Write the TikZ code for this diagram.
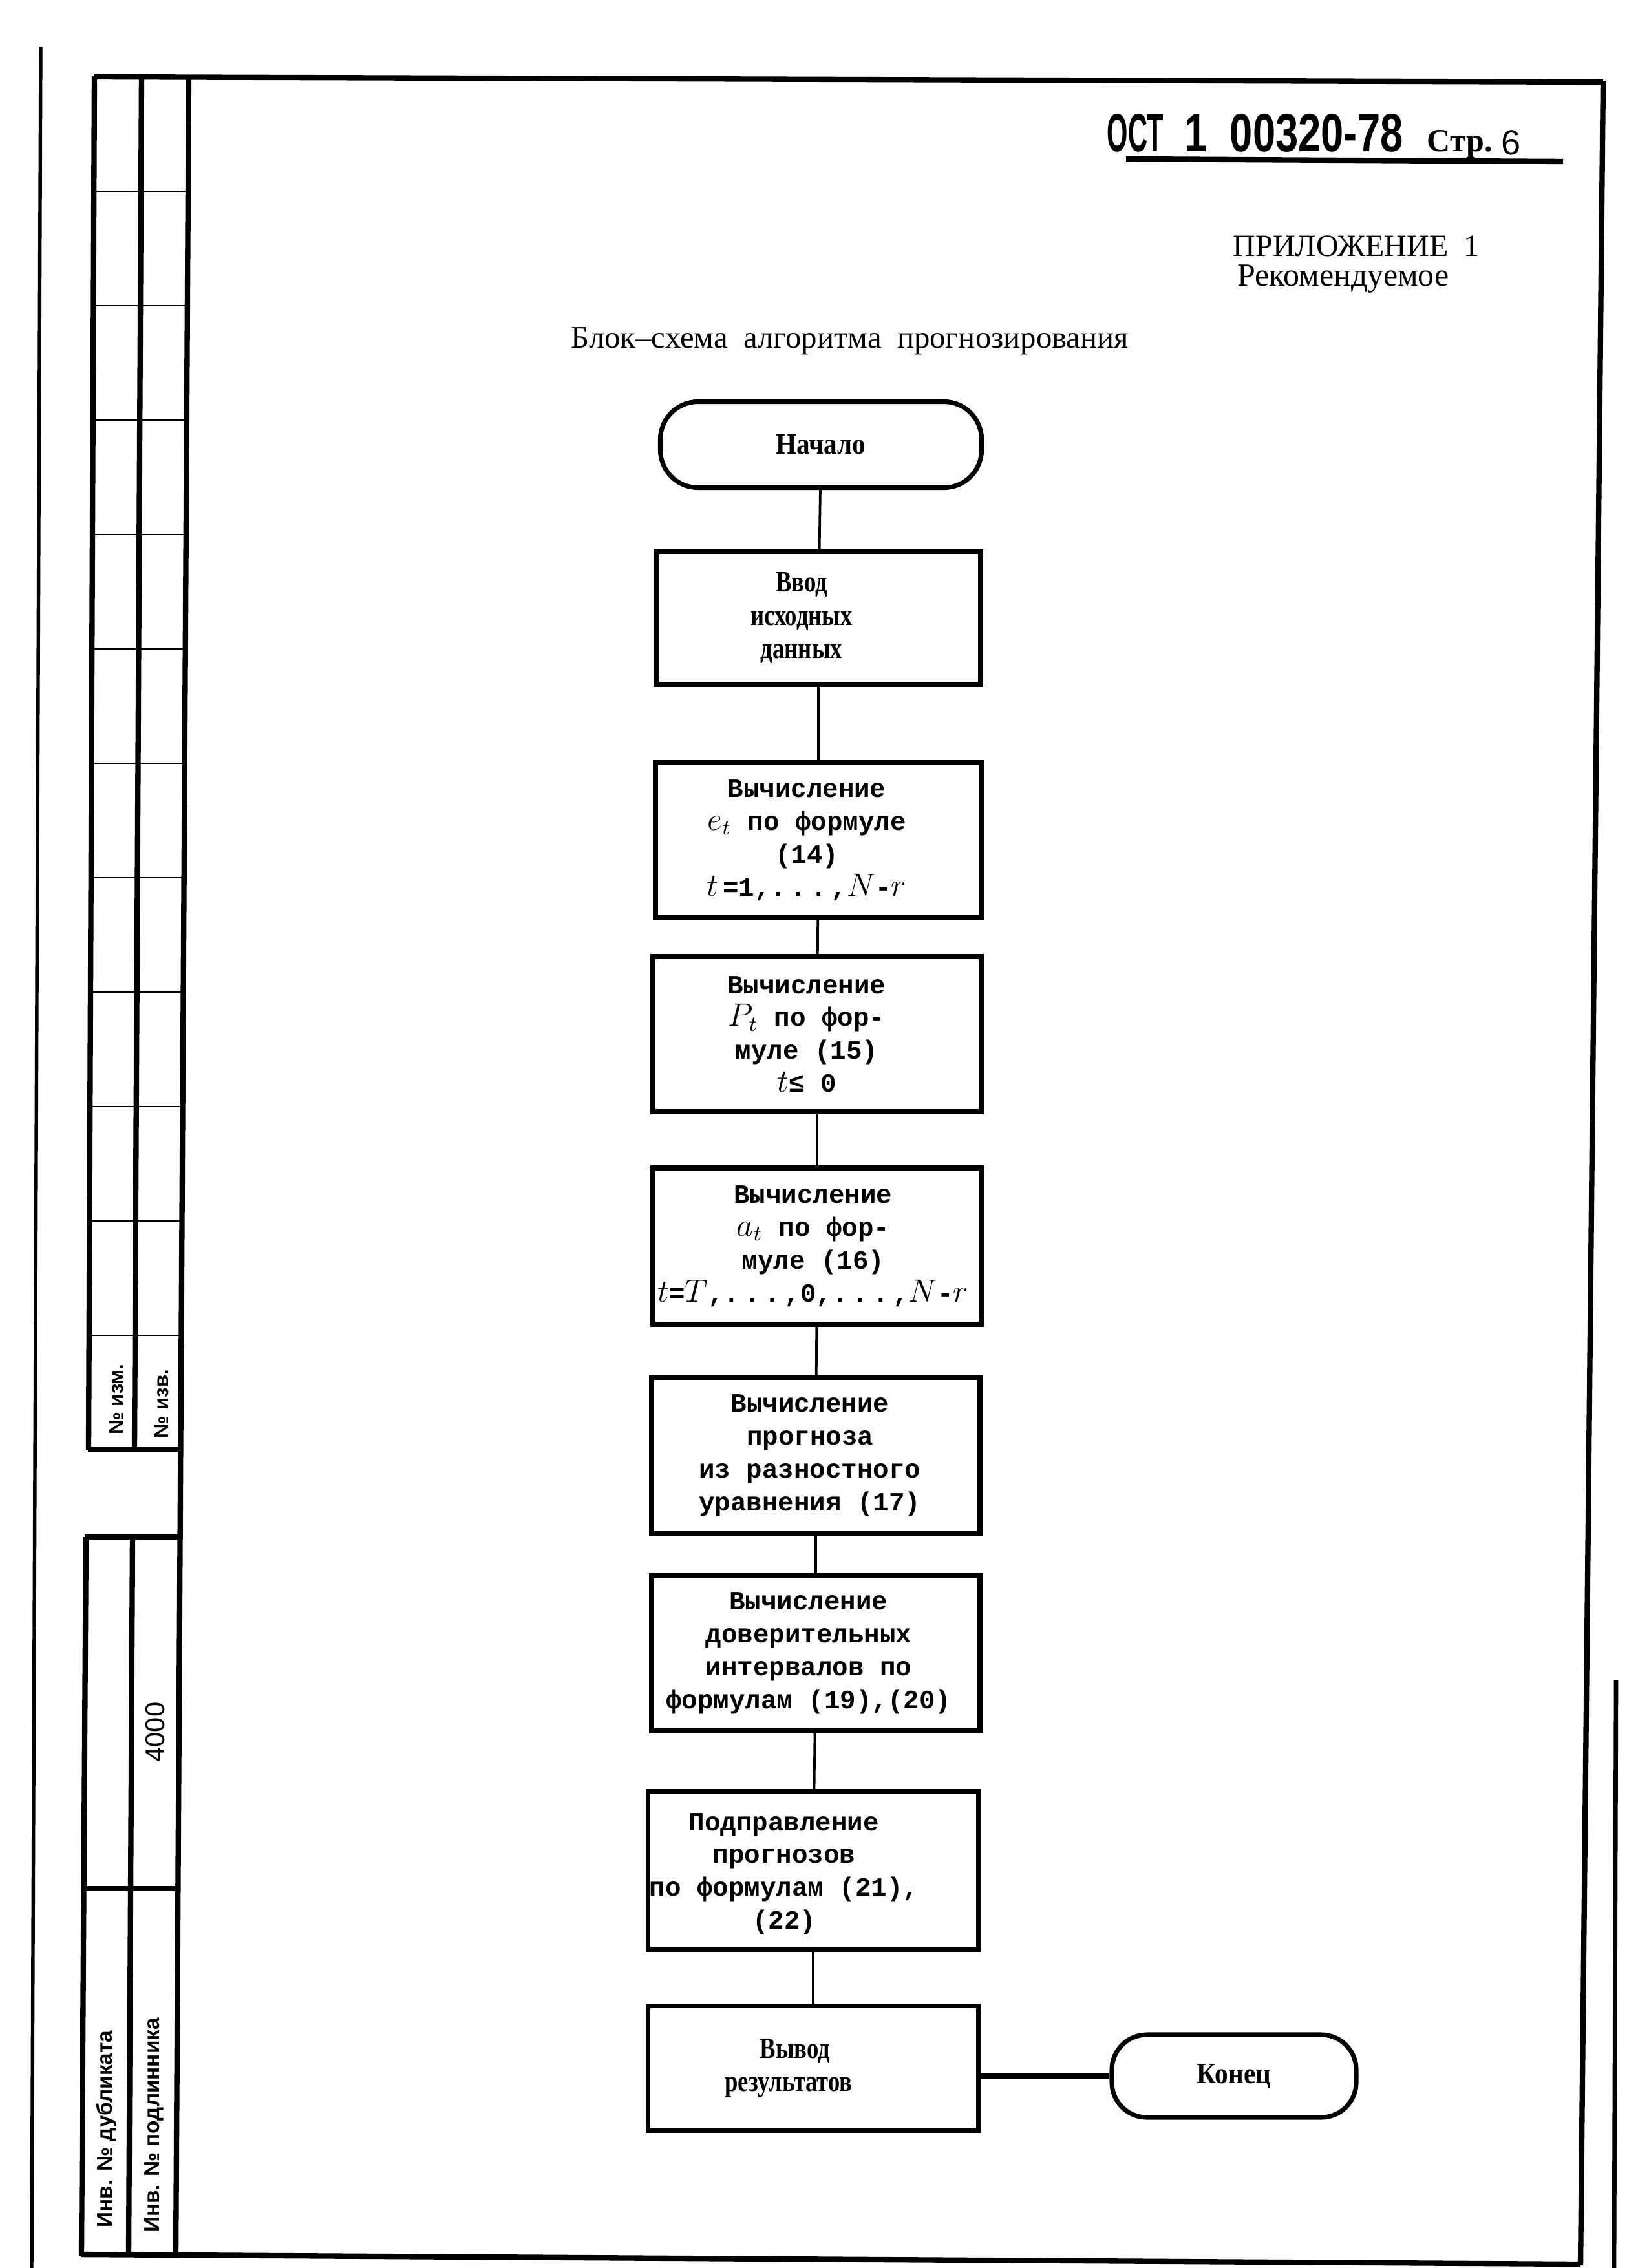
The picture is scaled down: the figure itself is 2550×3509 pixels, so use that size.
\documentclass[tikz,border=0pt]{standalone}
\usepackage{fontspec}
\usepackage{graphicx}
\setmainfont{Liberation Serif}
\newfontfamily\tw{Liberation Mono}
\newfontfamily\hsans{Liberation Sans}
\newcommand\hm[1]{{\fontsize{11.8}{12}\selectfont$#1$}}
\newcommand\cnd[1]{\scalebox{0.8}[1]{#1}}
\newcommand\cnt[1]{\scalebox{0.9}[1]{#1}}
\tikzset{
  frm/.style={line width=2pt},
  stampthin/.style={line width=0.7pt},
  procbox/.style={draw, line width=1.8pt, inner sep=0pt},
  boxtext/.style={inner sep=0pt, align=center, font=\tw\bfseries\fontsize{9.8}{12.2}\selectfont},
  serbox/.style={inner sep=0pt, align=center, font=\bfseries\fontsize{11}{12.3}\selectfont},
  termbox/.style={draw, line width=1.7pt, rounded corners=14pt, inner sep=0pt, font=\bfseries\fontsize{11}{12}\selectfont},
  link/.style={line width=0.9pt},
  stamptxt/.style={rotate=90, inner sep=0pt, font=\hsans\bfseries\fontsize{7.5}{8}\selectfont},
  hdr/.style={anchor=base west, inner sep=0pt, font=\hsans\bfseries\fontsize{20}{20}\selectfont},
}
\begin{document}
\begin{tikzpicture}[x=0.24pt, y=-0.24pt]
\useasboundingbox (0,0) rectangle (2550,3509);

% ---- page frame ----
\draw[line width=1.3pt] (63,72) -- (49,3509);
\draw[frm] (146,119) -- (2480,127);
\draw[frm] (2480,125) -- (2445,3505);
\draw[line width=1.6pt] (2500,2600) -- (2497,3509);
\draw[frm] (125,3488) -- (2445,3503);
% stamp columns (upper)
\draw[frm] (146,118) -- (137,2243);
\draw[frm] (219,118) -- (208,2243);
\draw[frm] (292,118) -- (272,3490);
\foreach \k in {1,...,11}{
  \pgfmathsetmacro\yy{119+177*\k}
  \draw[stampthin] ({146-(\yy-119)*0.00424},\yy) -- ({292-(\yy-119)*0.0066},\yy);
}
\draw[frm] (136,2242) -- (279,2242);
% stamp (lower)
\draw[frm] (133,2378) -- (126,3490);
\draw[frm] (205,2378) -- (199,3490);
\draw[frm] (132,2378) -- (278,2378);
\draw[frm] (129,2922) -- (275,2922);

% stamp texts
\node[stamptxt] (izm) at (180,2165) {№ изм.};
\node[stamptxt] (izv) at (250,2172) {№ изв.};
\node[rotate=90, inner sep=0pt, font=\hsans\fontsize{10}{10}\selectfont] (num) at (240,2680) {4000};
\node[stamptxt, font=\hsans\bfseries\fontsize{8}{8}\selectfont] (dub) at (165,3294) {Инв. № дубликата};
\node[stamptxt, font=\hsans\bfseries\fontsize{8}{8}\selectfont] (podl) at (238,3288) {Инв. № подлинника};

% ---- header ----
\node[hdr] (code1) at (1712,235) {\scalebox{0.5}[1]{ОСТ}};
\node[hdr] (code2) at (1832,235) {\scalebox{0.75}[1]{1}};
\node[hdr] (code3) at (1902,235) {\scalebox{0.76}[1]{00320-78}};
\node[anchor=base west, inner sep=0pt, font=\bfseries\fontsize{12}{12}\selectfont] (pg) at (2207,235) {Стр.};
\node[anchor=base west, inner sep=0pt, font=\hsans\fontsize{13}{13}\selectfont] (pgn) at (2322,240) {6};
\draw[line width=2pt] (1742,246) -- (2418,250);

\node[inner sep=0pt, font=\fontsize{11.5}{12}\selectfont] (app) at (2098,381) {ПРИЛОЖЕНИЕ\ \ 1};
\node[inner sep=0pt, font=\fontsize{12}{12}\selectfont] (rec) at (2078,432) {Рекомендуемое};
\node[inner sep=0pt, font=\fontsize{11.7}{12}\selectfont] (ttl) at (1315,528) {Блок–схема \ алгоритма \ прогнозирования};

% ---- flowchart ----
\node[termbox, minimum width=497*0.24pt, minimum height=133*0.24pt] (start) at (1270,688) {\cnt{Начало}};

\node[procbox, minimum width=502*0.24pt, minimum height=206*0.24pt] (b1) at (1266,956) {};
\node[serbox] (b1t) at ([xshift=-26*0.24pt]b1.center) {\cnd{Ввод}\\\cnd{исходных}\\\cnd{данных}};

\node[procbox, minimum width=504*0.24pt, minimum height=240*0.24pt] (b2) at (1266,1300) {};
\node[boxtext] (b2t) at ([xshift=-18*0.24pt]b2.center) {Вычисление\\\hm{e_t} по формуле\\(14)\\\hm{t}\,=1,.\,.\,.\,,\hm{N}-\hm{r}};

\node[procbox, minimum width=508*0.24pt, minimum height=240*0.24pt] (b3) at (1264,1600) {};
\node[boxtext] (b3t) at ([xshift=-16*0.24pt]b3.center) {Вычисление\\\hm{P_t} по фор-\\муле (15)\\\hm{t}≤ 0};

\node[procbox, minimum width=508*0.24pt, minimum height=242*0.24pt] (b4) at (1264,1928) {};
\node[boxtext] (b4t) at ([xshift=-6*0.24pt]b4.center) {Вычисление\\\hm{a_t} по фор-\\муле (16)\\\hm{t}=\hm{T},.\,.\,.\,,0,.\,.\,.\,,\hm{N}-\hm{r}};

\node[procbox, minimum width=508*0.24pt, minimum height=241*0.24pt] (b5) at (1262,2252) {};
\node[boxtext] (b5t) at ([xshift=-9*0.24pt]b5.center) {Вычисление\\прогноза\\из разностного\\уравнения (17)};

\node[procbox, minimum width=508*0.24pt, minimum height=240*0.24pt] (b6) at (1262,2558) {};
\node[boxtext] (b6t) at ([xshift=-11*0.24pt]b6.center) {Вычисление\\доверительных\\интервалов по\\формулам (19),(20)};

\node[procbox, minimum width=511*0.24pt, minimum height=244*0.24pt] (b7) at (1258,2894) {};
\node[boxtext] (b7t) at ([xshift=-45*0.24pt, yshift=-5*0.24pt]b7.center) {Подправление\\прогнозов\\по формулам (21),\\(22)};

\node[procbox, minimum width=511*0.24pt, minimum height=193*0.24pt] (b8) at (1258,3200) {};
\node[serbox, align=left] (b8t) at ([xshift=-38*0.24pt]b8.center) {\hspace*{13pt}\cnd{Вывод}\\\cnd{результатов}};

\node[termbox, rounded corners=13pt, minimum width=378*0.24pt, minimum height=128*0.24pt] (end) at (1909,3212) {\cnt{Конец}};

\draw[link] (start) -- (b1);
\draw[link] (b1) -- (b2);
\draw[link] (b2) -- (b3);
\draw[link] (b3) -- (b4);
\draw[link] (b4) -- (b5);
\draw[link] (b5) -- (b6);
\draw[link] (b6) -- (b7);
\draw[link] (b7) -- (b8);
\draw[line width=2pt] (b8.east |- end.west) -- (end.west);
\end{tikzpicture}
\end{document}
